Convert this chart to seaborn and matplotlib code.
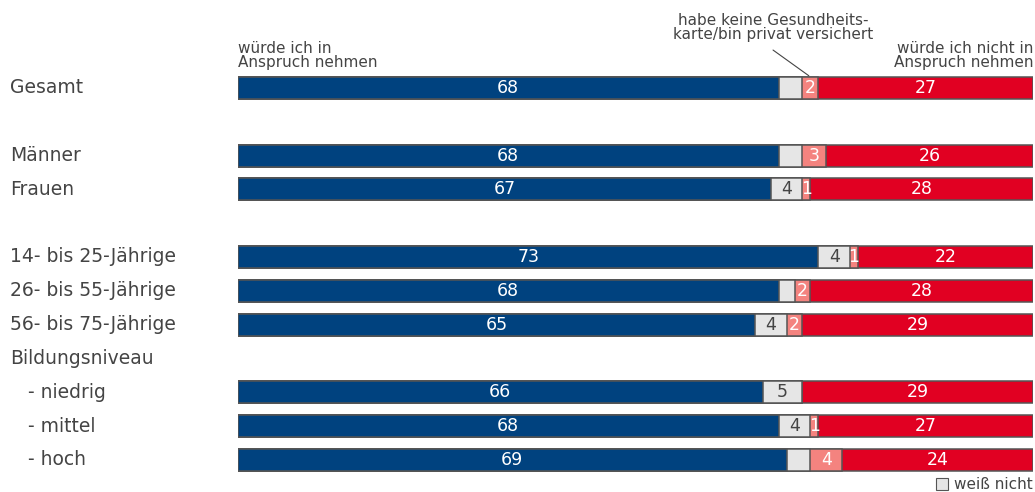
import pandas as pd
import seaborn as sns
import matplotlib.pyplot as plt
from matplotlib.patches import Patch

sns.set_theme(style="white")
plt.rcParams['font.family'] = ['DejaVu Sans']

# Chart data (percent)
groups = ["Gesamt", "Männer", "Frauen", "14- bis 25-Jährige",
          "26- bis 55-Jährige", "56- bis 75-Jährige",
          "   - niedrig", "   - mittel", "   - hoch"]
would_use = [68, 68, 67, 73, 68, 65, 66, 68, 69]
dont_know = [3, 3, 4, 4, 2, 4, 5, 4, 3]
no_card = [2, 3, 1, 1, 2, 2, 0, 1, 4]
would_not_use = [27, 26, 28, 22, 28, 29, 29, 27, 24]
section_label = "Bildungsniveau"

# layout: row slots, with gaps between the blocks
row_pos = [0, 2, 3, 5, 6, 7, 9, 10, 11]
section_pos = 8

BLUE = "#00427F"
GREY = "#E6E6E6"
PINK = "#F4837F"
RED = "#E10022"
EDGE = "#555555"
TXT = "#444444"

df = pd.DataFrame({
    "group": groups,
    "pos": row_pos,
    "use": would_use,
    "dk": dont_know,
    "card": no_card,
    "not_use": would_not_use,
})
df["c1"] = df["use"]
df["c2"] = df["c1"] + df["dk"]
df["c3"] = df["c2"] + df["card"]
df["c4"] = df["c3"] + df["not_use"]

fig = plt.figure(figsize=(10.35, 4.92), dpi=100)
ax = fig.add_axes([238 / 1035, 0, 795 / 1035, 1])

# stacked bars: draw cumulative totals from widest to narrowest
for col, color in [("c4", RED), ("c3", PINK), ("c2", GREY), ("c1", BLUE)]:
    sns.barplot(data=df, x=col, y="pos", orient="y", native_scale=True,
                color=color, saturation=1, width=0.65, edgecolor=EDGE,
                linewidth=1.1, ax=ax)

fs = 12.5
for _, r in df.iterrows():
    y = r["pos"]
    ax.text(r["use"] / 2, y, str(r["use"]), color="white", ha="center",
            va="center", fontsize=fs)
    if r["dk"] >= 4:
        ax.text(r["c1"] + r["dk"] / 2, y, str(r["dk"]), color=TXT,
                ha="center", va="center", fontsize=fs)
    if r["card"] > 0:
        ax.text(r["c2"] + r["card"] / 2, y, str(r["card"]), color="white",
                ha="center", va="center", fontsize=fs)
    ax.text(r["c3"] + r["not_use"] / 2, y, str(r["not_use"]), color="white",
            ha="center", va="center", fontsize=fs)
    ax.text(-228 / 795 * 100, y, r["group"], color=TXT, ha="left",
            va="center", fontsize=13.5, clip_on=False)

ax.text(-228 / 795 * 100, section_pos, section_label, color=TXT, ha="left",
        va="center", fontsize=13.5, clip_on=False)

ax.set_xlim(0, 100)
ax.set_ylim(11.95, -2.6)
ax.axis("off")

# header annotations
ax.text(0, -0.53, "würde ich in\nAnspruch nehmen", color=TXT, ha="left",
        va="bottom", fontsize=11, linespacing=0.95)
ax.text(100, -0.53, "würde ich nicht in\nAnspruch nehmen", color=TXT,
        ha="right", va="bottom", fontsize=11, linespacing=0.95)
ax.text(67.3, -1.36, "habe keine Gesundheits-\nkarte/bin privat versichert",
        color=TXT, ha="center", va="bottom", fontsize=11, linespacing=0.95)
ax.annotate("", xy=(71.8, -0.36), xytext=(67.3, -1.12),
            arrowprops=dict(arrowstyle="-", color=TXT, lw=0.8,
                            shrinkA=0, shrinkB=0))

handle = Patch(facecolor=GREY, edgecolor=EDGE, linewidth=0.8)
ax.legend([handle], ["weiß nicht"], loc="lower right", frameon=False,
          fontsize=11, handlelength=0.8, handleheight=0.8, handletextpad=0.4,
          borderaxespad=0, borderpad=0, bbox_to_anchor=(1, 0.0),
          labelcolor=TXT)

fig.savefig("out.png", dpi=100)
